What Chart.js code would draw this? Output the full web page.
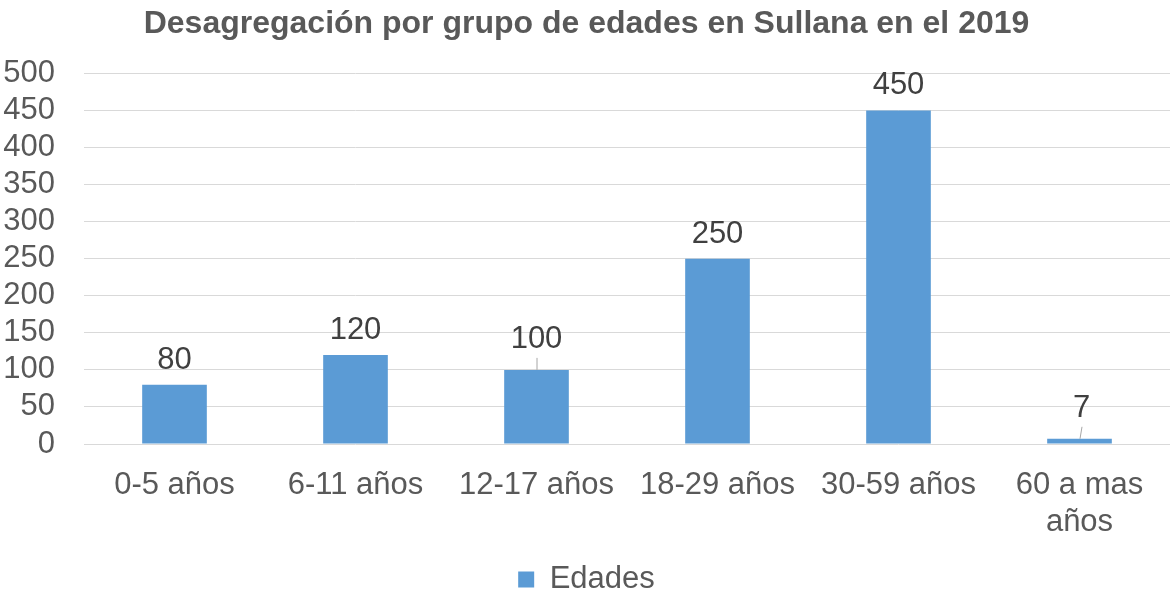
<!DOCTYPE html>
<html>
<head>
<meta charset="utf-8">
<script src="https://cdn.jsdelivr.net/npm/chart.js@4.4.1/dist/chart.umd.min.js"></script>
<style>
  html, body { margin: 0; padding: 0; background: #ffffff; }
  #wrap { width: 1172px; height: 592px; position: relative; }
</style>
</head>
<body>
<div id="wrap"><canvas id="chart"></canvas></div>
<script>
// Age groups and counts
const categories = ['0-5 años', '6-11 años', '12-17 años', '18-29 años', '30-59 años', ['60 a mas', 'años']];
const edades = [80, 120, 100, 250, 450, 7];
const seriesName = 'Edades';
const chartTitle = 'Desagregación por grupo de edades en Sullana en el 2019';
const yMin = 0, yMax = 500, yStep = 50;

const FONT = "'Liberation Sans', Arial, sans-serif";
const BAR = '#5B9BD5';

// Value labels above each bar; some are lifted a bit and joined to the bar by a leader line
const valueLabels = {
  id: 'valueLabels',
  afterDatasetsDraw(chart, args, opts) {
    const { ctx } = chart;
    const meta = chart.getDatasetMeta(0);
    const data = chart.data.datasets[0].data;
    ctx.save();
    ctx.font = '31px ' + FONT;
    ctx.fillStyle = '#404040';
    ctx.textAlign = 'center';
    ctx.textBaseline = 'alphabetic';
    meta.data.forEach((bar, i) => {
      const lifted = opts.lifted.includes(i);
      const gap = lifted ? 22 : 16;
      const dx = lifted && i === data.length - 1 ? 2 : 0;
      const y = bar.y - gap;
      ctx.fillText(String(data[i]), bar.x + dx, y);
      if (lifted) {
        ctx.strokeStyle = '#A6A6A6';
        ctx.lineWidth = 1;
        ctx.beginPath();
        ctx.moveTo(bar.x + dx + 0.5, y + 10);
        ctx.lineTo(bar.x + 0.5, bar.y);
        ctx.stroke();
      }
    });
    ctx.restore();
  }
};

new Chart(document.getElementById('chart'), {
  type: 'bar',
  data: {
    labels: categories,
    datasets: [{
      label: seriesName,
      data: edades,
      backgroundColor: BAR,
      borderWidth: 0,
      barPercentage: 1 / 2.8,
      categoryPercentage: 1
    }]
  },
  options: {
    responsive: true,
    maintainAspectRatio: false,
    animation: false,
    layout: { padding: { left: 3, right: 2, top: 0, bottom: -13 } },
    plugins: {
      title: {
        display: true,
        text: chartTitle,
        color: '#595959',
        font: { family: FONT, size: 32, weight: 'bold' },
        padding: { top: 5, bottom: 30 }
      },
      legend: {
        display: true,
        position: 'bottom',
        labels: {
          color: '#595959',
          font: { family: FONT, size: 31 },
          boxWidth: 16,
          boxHeight: 16,
          padding: 0
        }
      },
      tooltip: { enabled: false },
      valueLabels: { lifted: [2, 5] }
    },
    scales: {
      x: {
        grid: { display: false, drawTicks: false },
        border: { display: false },
        afterFit(scale) { scale.height = 120; },
        ticks: {
          color: '#595959',
          font: { family: FONT, size: 31 },
          padding: 23,
          maxRotation: 0,
          autoSkip: false
        }
      },
      y: {
        min: yMin,
        max: yMax,
        grid: { color: '#D9D9D9', lineWidth: 1, drawTicks: false },
        border: { display: false },
        afterFit(scale) { scale.width = 81; },
        ticks: {
          stepSize: yStep,
          autoSkip: false,
          color: '#595959',
          font: { family: FONT, size: 31 },
          padding: 29
        }
      }
    }
  },
  plugins: [valueLabels]
});
</script>
</body>
</html>
